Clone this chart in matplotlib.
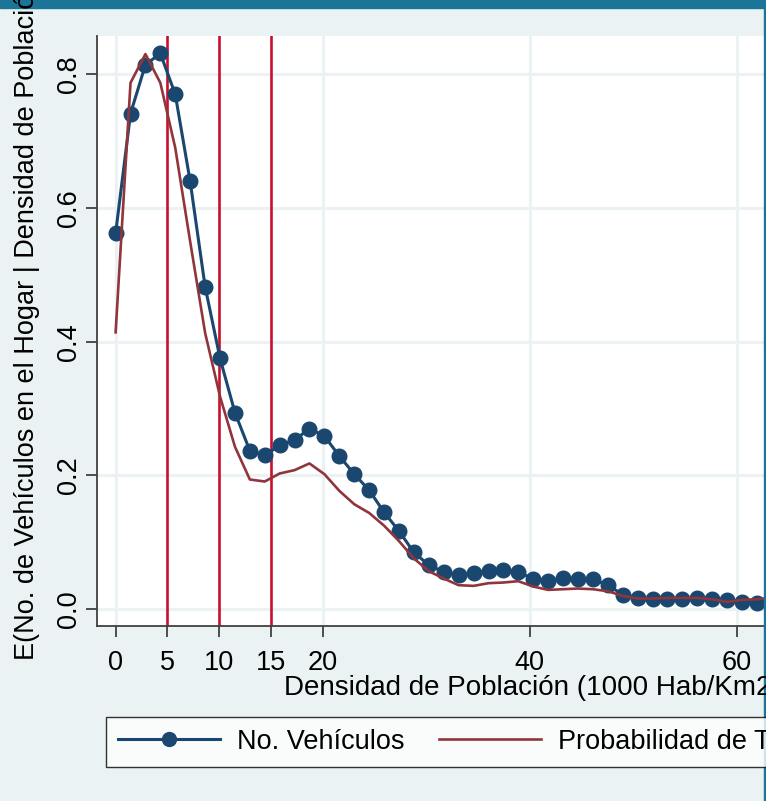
import matplotlib
matplotlib.use('Agg')
import matplotlib.pyplot as plt
from matplotlib.lines import Line2D
from matplotlib.patches import Rectangle

plt.rcParams['font.family'] = ['Liberation Sans', 'DejaVu Sans']

# densidad (1000 hab/km2), puntos de la regresion local
densidad = [0, 1.44, 2.88, 4.32, 5.76, 7.2, 8.65, 10.09, 11.53, 12.97,
            14.41, 15.85, 17.29, 18.73, 20.17, 21.62, 23.06, 24.5, 25.94, 27.38,
            28.82, 30.26, 31.7, 33.14, 34.59, 36.03, 37.47, 38.91, 40.35, 41.79,
            43.23, 44.67, 46.11, 47.56, 49.0, 50.44, 51.88, 53.32, 54.76, 56.2,
            57.64, 59.08, 60.52, 61.97, 63.41]
vehiculos = [0.562, 0.741, 0.814, 0.831, 0.770, 0.640, 0.482, 0.375, 0.294, 0.237,
             0.230, 0.245, 0.253, 0.270, 0.259, 0.229, 0.202, 0.178, 0.145, 0.117,
             0.085, 0.066, 0.056, 0.051, 0.054, 0.057, 0.058, 0.056, 0.045, 0.042,
             0.047, 0.046, 0.045, 0.036, 0.022, 0.017, 0.016, 0.016, 0.016, 0.017,
             0.016, 0.014, 0.011, 0.009, 0.008]
prob_tenencia = [0.414, 0.787, 0.830, 0.787, 0.690, 0.550, 0.413, 0.318, 0.243, 0.194,
                 0.191, 0.203, 0.208, 0.218, 0.202, 0.177, 0.157, 0.144, 0.125, 0.102,
                 0.076, 0.057, 0.046, 0.036, 0.035, 0.039, 0.040, 0.042, 0.034, 0.029,
                 0.030, 0.031, 0.030, 0.027, 0.020, 0.016, 0.016, 0.017, 0.017, 0.017,
                 0.015, 0.011, 0.014, 0.015, 0.017]
cortes = [5, 10, 15]
xticks = [0, 5, 10, 15, 20, 40, 60]
xgrid = [0, 20, 40, 60]
yticks = [0.0, 0.2, 0.4, 0.6, 0.8]

navy = '#1a476f'
maroon = '#90353b'
crimson = '#c8102e'
bg = '#eaf2f3'
fs = 19.5

W, H = 766, 801
fig = plt.figure(figsize=(W / 100, H / 100), dpi=100, facecolor=bg)
# banda superior y borde derecho
fig.patches.append(Rectangle((0, 1 - 8 / H), 1, 8 / H, transform=fig.transFigure,
                             color='#1b7597', zorder=0))
fig.patches.append(Rectangle((1 - 2 / W, 0), 2 / W, 1, transform=fig.transFigure,
                             color='#1b7597', zorder=0))

ax = fig.add_axes([97.3 / W, (H - 626) / H, (770 - 97.3) / W, 590 / H])
ax.set_facecolor('white')
ax.set_xlim(-1.77, 63.23)
ax.set_ylim(-0.025, 0.857)

for g in xgrid:
    ax.axvline(g, color=bg, lw=2.2, zorder=0.5)
for g in yticks:
    ax.axhline(g, color=bg, lw=2.2, zorder=0.5)
for c in cortes:
    ax.axvline(c, color=crimson, lw=1.9, zorder=1)

ax.plot(densidad, vehiculos, color=navy, lw=2.2, marker='o', ms=10.5, zorder=3)
ax.plot(densidad, prob_tenencia, color=maroon, lw=1.9, zorder=4)

for s in ['top', 'right']:
    ax.spines[s].set_visible(False)
for s in ['left', 'bottom']:
    ax.spines[s].set_color('#404040')
    ax.spines[s].set_linewidth(1.3)

ax.set_xticks(xticks)
ax.set_xticklabels([str(t) for t in xticks])
ax.set_yticks(yticks)
ax.set_yticklabels(['%.1f' % t for t in yticks], rotation=90, va='center')
ax.tick_params(axis='both', length=8, width=1.3, color='#404040', labelsize=fs)
ax.tick_params(axis='y', pad=3)
ax.tick_params(axis='x', pad=9)

fig.text(284 / W, 1 - 695 / H, 'Densidad de Población (1000 Hab/Km2)', fontsize=20,
         ha='left', va='baseline')
fig.text(27 / W, 1 - 660 / H, 'E(No. de Vehículos en el Hogar | Densidad de Población)',
         fontsize=fs, rotation=90, ha='center', va='bottom')

handles = [Line2D([], [], color=navy, lw=2.2, marker='o', ms=10),
           Line2D([], [], color=maroon, lw=1.9)]
leg = fig.legend(handles, ['No. Vehículos', 'Probabilidad de Tener Vehículo'],
                 loc='upper left', bbox_to_anchor=(106 / W, 1 - 716.7 / H),
                 ncol=2, fontsize=fs, frameon=True, fancybox=False,
                 edgecolor='black', borderaxespad=0, handlelength=3.75,
                 handletextpad=0.62, columnspacing=1.3, borderpad=0.45)
leg.get_frame().set_linewidth(1.0)

fig.savefig('out.png', dpi=100, facecolor=bg)
